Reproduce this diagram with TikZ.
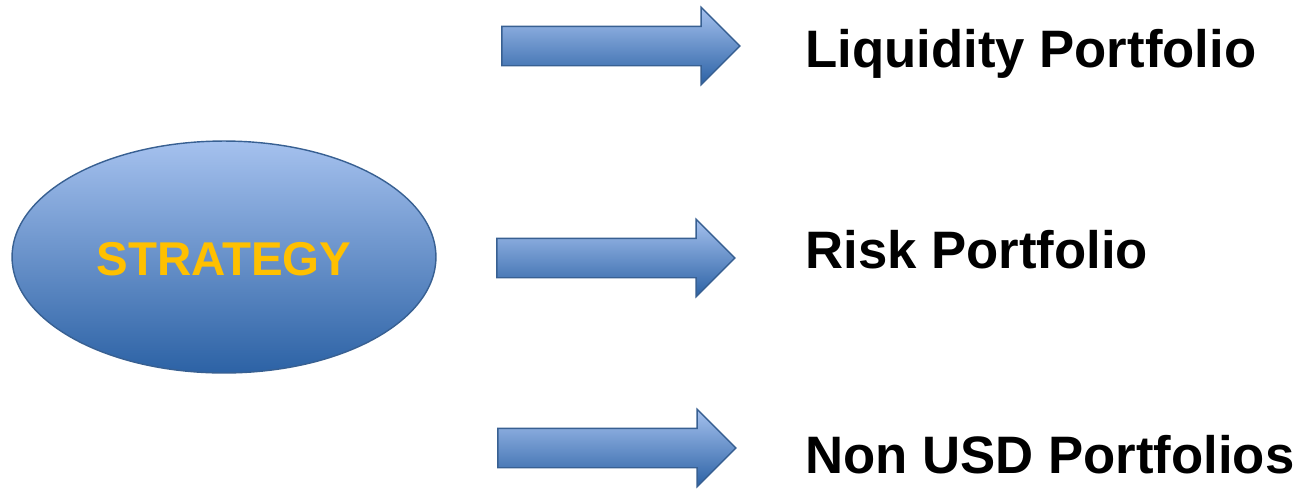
\documentclass[tikz,border=0pt]{standalone}
\usepackage{fontspec}
\setmainfont{Liberation Sans}
\usepackage{tikz}
\usepackage{xcolor}
\usetikzlibrary{positioning, shapes.geometric, shapes.arrows}
\definecolor{toplight}{RGB}{165, 193, 238}
\definecolor{botdark}{RGB}{44, 98, 165}
\definecolor{rimblue}{RGB}{56, 96, 146}
\definecolor{gold}{RGB}{255, 192, 0}

\begin{document}
\begin{tikzpicture}[x=0.02cm,y=-0.02cm,
    blockarrow/.style={single arrow,draw=rimblue,thick,
      top color=toplight,bottom color=botdark,
      inner xsep=0pt,inner ysep=0.38cm,
      single arrow head extend=0.38cm,single arrow head indent=0pt,
      minimum height=4.76cm,minimum width=0pt},
    portlabel/.style={anchor=base west,inner sep=0pt,
      font=\fontsize{30}{36}\selectfont\bfseries}]
        \useasboundingbox (0,0) rectangle (1298,488);
        \node[ellipse,draw=rimblue,thick,top color=toplight,bottom color=botdark,
              minimum width=8.48cm,minimum height=4.64cm] (strategy) at (224,257) {};
        \node[anchor=base,inner sep=0pt,text=gold,
              font=\fontsize{27}{32}\selectfont\bfseries] (strattext) at (224,275) {STRATEGY};
        \node[blockarrow] (arrowA) at (611,46) {};
        \node[blockarrow] (arrowB) at (606,258) {};
        \node[blockarrow] (arrowC) at (607,448) {};
        \node[portlabel] (liquidity) at (805,67) {Liquidity Portfolio};
        \node[portlabel] (risk) at (805,268) {Risk Portfolio};
        \node[portlabel] (nonusd) at (805,473) {Non USD Portfolios};
      \end{tikzpicture}
\end{document}
